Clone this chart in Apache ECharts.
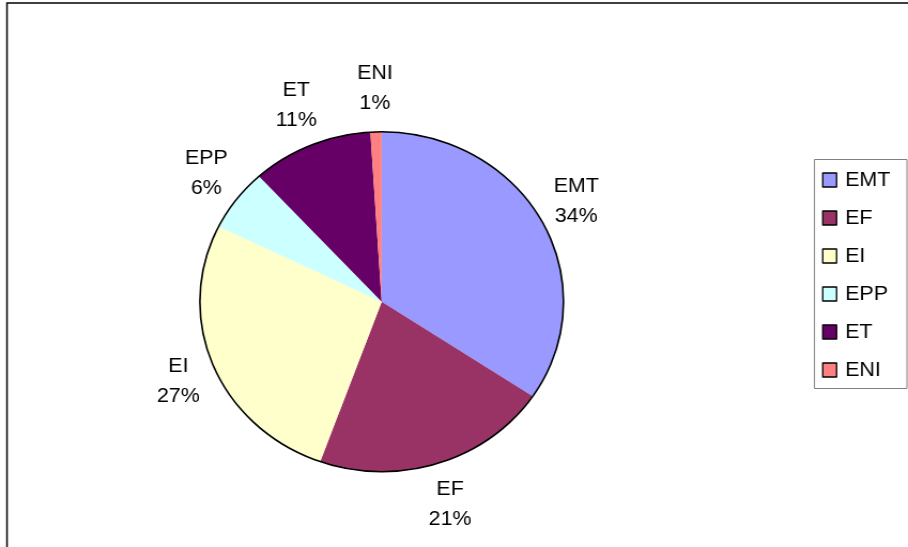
<!DOCTYPE html>
<html>
<head>
<meta charset="utf-8">
<script src="https://cdn.jsdelivr.net/npm/echarts@6/dist/echarts.min.js"></script>
<style>
html,body{margin:0;padding:0;background:#fff;overflow:hidden;}
#chart{width:849px;height:547px;transform:scaleX(1.0695);transform-origin:0 0;}
</style>
</head>
<body>
<div id="chart"></div>
<script>
const categories = ['EMT', 'EF', 'EI', 'EPP', 'ET', 'ENI'];
const values = [34.4, 21.1, 26.8, 5.9, 10.8, 1.0];
const colors = ['#9999FF', '#993366', '#FFFFCC', '#CCFFFF', '#660066', '#FF8080'];

const FONT = 'Liberation Sans, Arial, sans-serif';
const SX = 1.0695;            // horizontal stretch of the original picture
const CX = 381.7 / SX, CY = 301.7, R = 170, LABEL_R = 213, LABEL_GAP = 15;

const pieData = categories.map((name, i) => ({
  name: name,
  value: values[i],
  itemStyle: { color: colors[i] }
}));
const labelData = categories.map((name, i) => ({ name: name, value: values[i] }));

const chart = echarts.init(document.getElementById('chart'), null, { renderer: 'canvas' });
chart.setOption({
  animation: false,
  backgroundColor: '#ffffff',
  legend: {
    orient: 'vertical',
    left: 822 / SX - 5,
    top: 165,
    itemWidth: 13,
    itemHeight: 14,
    itemGap: 18,
    icon: 'rect',
    data: categories,
    selectedMode: false,
    itemStyle: { borderColor: '#000', borderWidth: 1.3 },
    textStyle: { fontFamily: FONT, fontSize: 20, color: '#000', lineHeight: 20, padding: [0, 0, 0, 3] }
  },
  graphic: [
    { type: 'rect', z: 0, shape: { x: 7 / SX, y: 3, width: 1000, height: 700 },
      style: { fill: 'none', stroke: '#000', lineWidth: 1.5 } },
    { type: 'rect', z: 0, shape: { x: 814.5 / SX, y: 159.5, width: 92.5 / SX, height: 229 },
      style: { fill: 'none', stroke: '#808080', lineWidth: 1 } },
    { type: 'circle', z: 100, silent: true, shape: { cx: CX, cy: CY, r: R },
      style: { fill: 'none', stroke: '#000', lineWidth: 1.6 } }
  ],
  series: [
    {
      type: 'pie',
      center: [CX, CY],
      radius: [0, R],
      startAngle: 90,
      clockwise: true,
      silent: true,
      label: { show: false },
      labelLine: { show: false },
      itemStyle: { borderWidth: 0 },
      data: pieData
    },
    {
      type: 'pie',
      center: [CX, CY],
      radius: [R, 2 * LABEL_R - R],
      startAngle: 90,
      clockwise: true,
      silent: true,
      itemStyle: { color: 'rgba(0,0,0,0)', borderWidth: 0 },
      label: {
        show: true,
        position: 'inside',
        fontFamily: FONT,
        fontSize: 20,
        lineHeight: 30,
        color: '#000',
        align: 'center',
        formatter: p => p.name + '\n' + Math.round(p.percent) + '%'
      },
      labelLayout: function (params) {
        const r = params.labelRect;
        const mx = r.x + r.width / 2, my = r.y + r.height / 2;
        const vx = mx - CX, vy = my - CY;
        const len = Math.sqrt(vx * vx + vy * vy) || 1;
        const ux = vx / len, uy = vy / len;
        // put the label box just outside the rim, its nearest edge facing the slice
        const tx = CX + ux * (R + LABEL_GAP) + ux * r.width / 2;
        const ty = CY + uy * (R + LABEL_GAP) + uy * (r.height / 2 - 2);
        return { dx: tx - mx, dy: ty - my };
      },
      labelLine: { show: false },
      emphasis: { disabled: true },
      data: labelData
    }
  ]
});
</script>
</body>
</html>
